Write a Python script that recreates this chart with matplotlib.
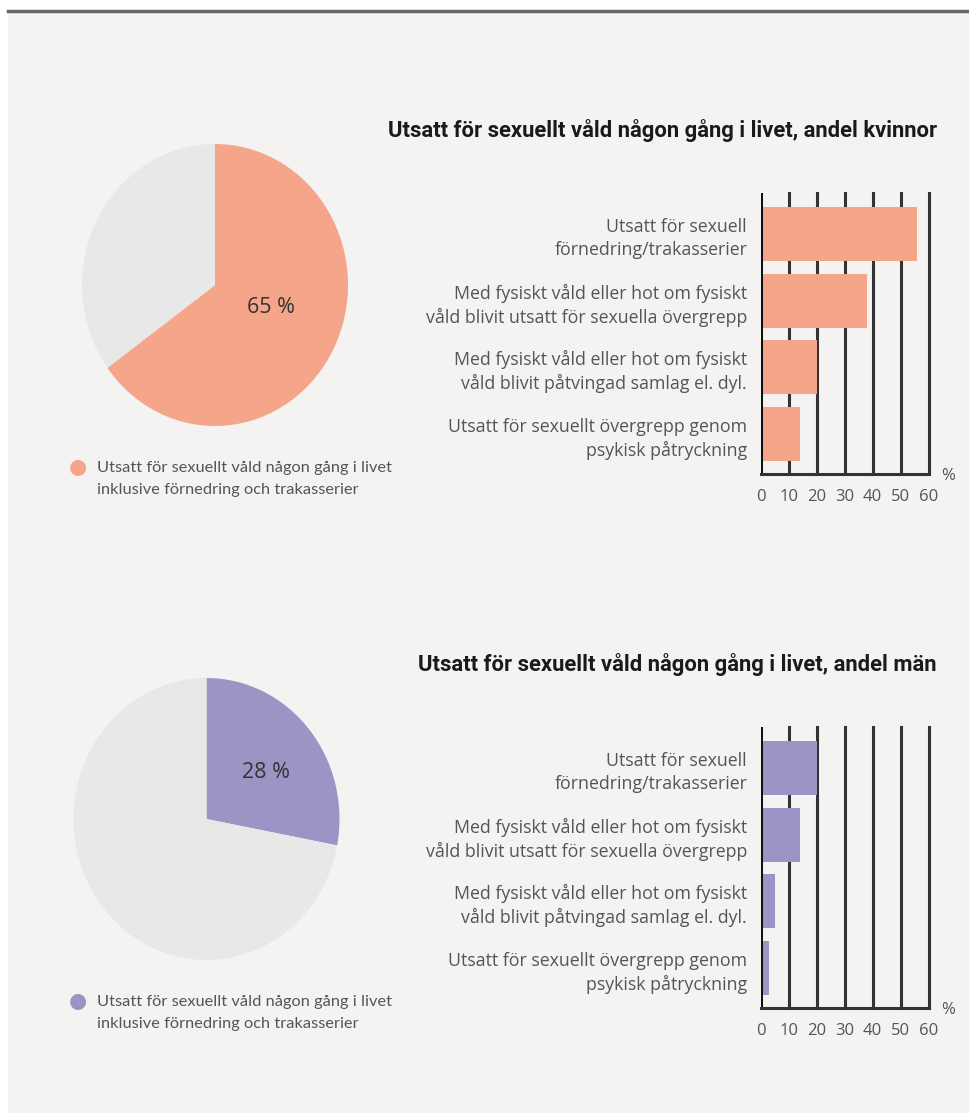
import matplotlib
matplotlib.use("Agg")
import matplotlib.pyplot as plt
from matplotlib.patches import Rectangle
from matplotlib.lines import Line2D

W, H = 969, 1113

# data
categories = [
    "Utsatt för sexuell\nförnedring/trakasserier",
    "Med fysiskt våld eller hot om fysiskt\nvåld blivit utsatt för sexuella övergrepp",
    "Med fysiskt våld eller hot om fysiskt\nvåld blivit påtvingad samlag el. dyl.",
    "Utsatt för sexuellt övergrepp genom\npsykisk påtryckning",
]
women_bars = [56, 38, 20, 14]
men_bars = [20, 14, 5, 3]
women_total = 65
men_total = 28
xticks = [0, 10, 20, 30, 40, 50, 60]

titles = ["Utsatt för sexuellt våld någon gång i livet, andel kvinnor",
          "Utsatt för sexuellt våld någon gång i livet, andel män"]
legend_text = "Utsatt för sexuellt våld någon gång i livet\ninklusive förnedring och trakasserier"

ORANGE = "#f4a58a"
PURPLE = "#9d94c5"
PIEGRAY = "#e8e8e8"
BG = "#f4f3f1"
TXT = "#555555"

fig = plt.figure(figsize=(W / 100, H / 100), dpi=100)
fig.patch.set_facecolor("white")

# background panel and top rule
fig.add_artist(Rectangle((8 / W, 0), 1 - 8 / W, 1 - 12 / H, transform=fig.transFigure,
                         facecolor=BG, edgecolor="none", zorder=0))
fig.add_artist(Line2D([8 / W, 1], [1 - 11 / H, 1 - 11 / H], transform=fig.transFigure,
                      color="#666666", lw=2.5))


def px_axes(x0, y0, x1, y1):
    # pixel box (top-left origin) -> figure axes
    return fig.add_axes([x0 / W, 1 - y1 / H, (x1 - x0) / W, (y1 - y0) / H])


def draw_block(off, cx, cy, total, color, label_xy, bars, title):
    # pie
    ax = px_axes(cx - 133, cy - 141, cx + 133, cy + 141)
    ax.pie([total, 100 - total], colors=[color, PIEGRAY], startangle=90,
           counterclock=False, radius=1.0)
    ax.set_aspect("auto")
    ax.set_xlim(-1, 1)
    ax.set_ylim(-1, 1)
    ax.axis("off")
    fig.text(label_xy[0] / W, 1 - label_xy[1] / H, f"{total} %", ha="center", va="center",
             fontsize=15.5, color="#333333", family="Open Sans")

    # legend
    fig.text(78 / W, 1 - (off + 467) / H, "●", ha="center", va="center",
             fontsize=15, color=color)
    fig.text(97 / W, 1 - (off + 479) / H, legend_text, ha="left", va="center",
             fontsize=11.8, color=TXT, family="Lato", linespacing=1.75)

    # title
    fig.text(937 / W, 1 - (off + 131) / H, title, ha="right", va="center",
             fontsize=15.8, fontweight="bold", color="#1a1a1a", family="Roboto")

    # bars
    bx = px_axes(761, off + 193, 928.5, off + 474)
    bx.set_facecolor("none")
    bx.barh(range(len(bars)), bars, height=0.81, color=color, zorder=1)
    bx.set_xlim(0, 60)
    bx.set_ylim(3.6, -0.62)
    for v in xticks[1:]:
        bx.axvline(v, color="#333333", lw=2.2, zorder=0, clip_on=False)
    bx.axvline(0, color="#111111", lw=2.2, zorder=2)
    for s in ["top", "right", "left"]:
        bx.spines[s].set_visible(False)
    bx.spines["bottom"].set_color("#333333")
    bx.spines["bottom"].set_linewidth(2.2)
    bx.set_xticks(xticks)
    bx.set_xticklabels([str(t) for t in xticks], fontsize=12, color=TXT, family="Open Sans")
    bx.tick_params(axis="x", length=0, pad=11)
    bx.set_yticks(range(len(bars)))
    bx.set_yticklabels(categories, fontsize=12.8, color=TXT, family="Open Sans",
                       linespacing=1.33)
    bx.tick_params(axis="y", length=0, pad=10)
    fig.text(948 / W, 1 - (off + 476) / H, "%", ha="center", va="center",
             fontsize=12, color=TXT, family="Open Sans")


draw_block(0, 215, 285, women_total, ORANGE, (271, 308), women_bars, titles[0])
draw_block(534, 206.5, 819, men_total, PURPLE, (266, 773), men_bars, titles[1])

fig.savefig("out.png", dpi=100, facecolor=fig.get_facecolor())
